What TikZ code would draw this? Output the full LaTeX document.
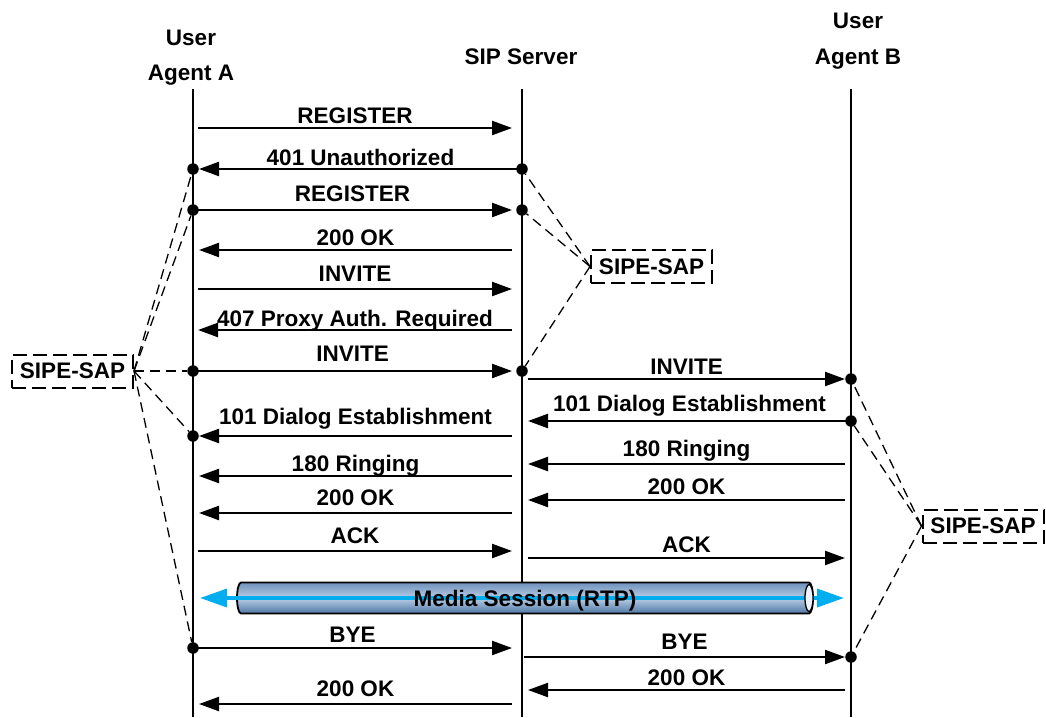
\documentclass[tikz,border=0pt]{standalone}
\usepackage{fontspec}
\setmainfont{Liberation Sans}
\usetikzlibrary{arrows.meta,shapes.geometric}
\definecolor{rtpcyan}{HTML}{00AEEF}
\definecolor{cyltop}{HTML}{6F92BE}
\definecolor{cylmid}{HTML}{B8CDE4}
\definecolor{cylbot}{HTML}{4F78A6}
\definecolor{cylend}{HTML}{EEF2FA}
\begin{document}
\begin{tikzpicture}[x=1pt,y=-1pt,
  life/.style={line width=2.3pt},
  msg/.style={line width=2.3pt,-{Triangle[length=20pt,width=14pt]}},
  lbl/.style={font=\fontsize{22.5}{27}\selectfont\bfseries,anchor=base,inner sep=0pt},
  head/.style={font=\fontsize{22.5}{27}\selectfont\bfseries,anchor=base,inner sep=0pt},
  dot/.style={circle,fill=black,inner sep=0pt,minimum size=11.5pt},
  sap/.style={draw,dash pattern=on 14pt off 6pt,line width=2pt,minimum width=121pt,minimum height=33pt,inner sep=0pt,fill=white,font=\fontsize{22.5}{27}\selectfont\bfseries},
  link/.style={dash pattern=on 10pt off 6pt,line width=1.3pt},
  rtp/.style={draw=rtpcyan,line width=3.5pt,{Triangle[length=27pt,width=18pt]}-{Triangle[length=27pt,width=18pt]}}]
\useasboundingbox (0,0) rectangle (1046,717);

% headers
\node[head] (hA1) at (191,46) {User};
\node[head] (hA2) at (191,80) {Agent A};
\node[head] (hS) at (521,64) {SIP Server};
\node[head] (hB1) at (858,29) {User};
\node[head] (hB2) at (858,64) {Agent B};

% lifelines
\coordinate (At) at (193,89); \coordinate (Ab) at (193,717);
\coordinate (St) at (522,89); \coordinate (Sb) at (522,717);
\coordinate (Bt) at (851,89); \coordinate (Bb) at (851,717);
\draw[life] (At) -- (Ab);
\draw[life] (St) -- (Sb);
\draw[life] (Bt) -- (Bb);

% messages: start x / end x / y / label y / label / name
\foreach \xa/\xb/\yy/\ly/\txt/\nm in {
  198/512/128/115/REGISTER/m1,
  522/199/169/157/401 Unauthorized/m2,
  193/512/210/193/REGISTER/m3,
  512/199/250/237/200 OK/m4,
  198/512/289/273/INVITE/m5,
  512/198/330/318/407 Proxy Auth. Required/m6,
  193/512/371/353/INVITE/m7,
  512/199/436/416/101 Dialog Establishment/m8,
  512/199/476/463/180 Ringing/m9,
  512/199/513/497/200 OK/m10,
  198/512/551/535/ACK/m11,
  193/512/648/634/BYE/m12,
  512/199/704/688/200 OK/m13,
  528/845/379/366/INVITE/n1,
  851/528/421/403/101 Dialog Establishment/n2,
  845/528/464/448/180 Ringing/n3,
  845/528/500/486/200 OK/n4,
  528/845/558/544/ACK/n5,
  524/845/657/641/BYE/n6,
  845/528/690/677/200 OK/n7}{
  \coordinate (\nm s) at (\xa,\yy);
  \coordinate (\nm e) at (\xb,\yy);
  \draw[msg] (\nm s) -- (\nm e);
  \pgfmathsetmacro{\mx}{(\xa+\xb)/2}
  \node[lbl] (\nm l) at (\mx,\ly+8) {\txt};
}

% media session
\path[top color=cyltop,bottom color=cylbot,middle color=cylmid,draw=black,line width=1.8pt]
  (241,582.5) -- (809,582.5) arc(-90:90:4 and 15.5) -- (241,613.5) arc(90:270:4 and 15.5) -- cycle;
\coordinate (rtpL) at (200,598);
\coordinate (rtpR) at (844,598);
\draw[rtp] (rtpL) -- (rtpR);
\node[draw=black,fill=cylend,line width=1.3pt,ellipse,minimum width=8pt,minimum height=27pt,inner sep=0pt] (cylend) at (809,598) {};
\node[lbl] (media) at (525,606) {Media Session (RTP)};

% dots
\node[dot] (dA1) at (193,169) {};
\node[dot] (dA2) at (193,210) {};
\node[dot] (dA3) at (193,371) {};
\node[dot] (dA4) at (193,436) {};
\node[dot] (dA5) at (193,648) {};
\node[dot] (dS1) at (522,169) {};
\node[dot] (dS2) at (522,210) {};
\node[dot] (dS3) at (522,371) {};
\node[dot] (dB1) at (851,379) {};
\node[dot] (dB2) at (851,421) {};
\node[dot] (dB3) at (851,657) {};

% SIPE-SAP boxes
\node[sap] (sapL) at (72.5,371) {SIPE-SAP};
\node[sap] (sapM) at (651.5,266.5) {SIPE-SAP};
\node[sap] (sapR) at (983,526) {SIPE-SAP};

\foreach \d in {dA1,dA2,dA3,dA4,dA5}{\draw[link] (sapL.east) -- (\d);}
\foreach \d in {dS1,dS2,dS3}{\draw[link] (sapM.west) -- (\d);}
\foreach \d in {dB1,dB2,dB3}{\draw[link] (sapR.west) -- (\d);}
\end{tikzpicture}
\end{document}
